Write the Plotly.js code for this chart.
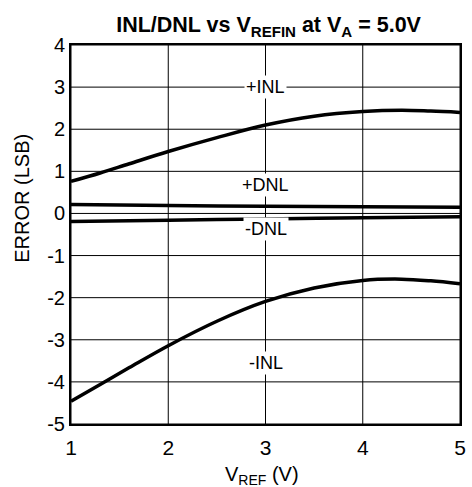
<!DOCTYPE html>
<html>
<head>
<meta charset="utf-8">
<script src="https://cdn.plot.ly/plotly-3.0.1.min.js"></script>
<style>html,body{margin:0;padding:0;background:#fff;}</style>
</head>
<body>
<div id="chart" style="width:472px;height:487px;"></div>
<script>
const vref = [1, 1.3, 1.6, 2, 2.5, 3, 3.5, 4, 4.4, 4.7, 5];
const inlPos = [0.76, 0.96, 1.18, 1.47, 1.80, 2.10, 2.31, 2.42, 2.45, 2.43, 2.40];
const inlNeg = [-4.46, -4.06, -3.66, -3.14, -2.56, -2.09, -1.77, -1.59, -1.56, -1.60, -1.67];
const vrefDnl = [1, 2, 3, 4, 5];
const dnlPos = [0.21, 0.19, 0.17, 0.16, 0.15];
const dnlNeg = [-0.19, -0.16, -0.13, -0.10, -0.08];
const labels = ["+INL", "+DNL", "-DNL", "-INL"];
const labelY = [3, 0.68, -0.36, -3.54];
const xTicks = [1, 2, 3, 4, 5];
const yTicks = [4, 3, 2, 1, 0, -1, -2, -3, -4, -5];

const lineStyle = {color: '#000', width: 3.5, shape: 'spline', smoothing: 1};
const traces = [
  {x: vref, y: inlPos, mode: 'lines', line: lineStyle, hoverinfo: 'none'},
  {x: vref, y: inlNeg, mode: 'lines', line: lineStyle, hoverinfo: 'none'},
  {x: vrefDnl, y: dnlPos, mode: 'lines', line: lineStyle, hoverinfo: 'none'},
  {x: vrefDnl, y: dnlNeg, mode: 'lines', line: lineStyle, hoverinfo: 'none'}
];

const font = {family: 'Liberation Sans, Arial, sans-serif', color: '#000'};
const annotations = labels.map((t, i) => ({
  x: 3, y: labelY[i], xref: 'x', yref: 'y', text: t, showarrow: false,
  font: Object.assign({}, font, {size: 18}), bgcolor: '#fff', borderpad: 1
}));
// axis titles placed as annotations to match reference positions
annotations.push({
  xref: 'paper', yref: 'paper', x: -0.126, y: 0.597, xanchor: 'center', yanchor: 'middle',
  text: 'ERROR (LSB)', textangle: -90, showarrow: false,
  font: Object.assign({}, font, {size: 20})
});
annotations.push({
  xref: 'paper', yref: 'paper', x: 0.492, y: -0.097, xanchor: 'center', yanchor: 'top',
  text: 'V<sub>REF</sub> (V)', showarrow: false,
  font: Object.assign({}, font, {size: 20})
});

// grid lines from tick arrays
const shapes = [];
xTicks.forEach(v => shapes.push({type: 'line', xref: 'x', yref: 'paper', x0: v, x1: v, y0: 0, y1: 1,
  line: {color: '#000', width: 1}, layer: 'below'}));
yTicks.forEach(v => shapes.push({type: 'line', xref: 'paper', yref: 'y', x0: 0, x1: 1, y0: v, y1: v,
  line: {color: '#000', width: 1}, layer: 'below'}));

const layout = {
  width: 472, height: 487,
  margin: {l: 71, r: 12, t: 45, b: 63},
  paper_bgcolor: '#fff', plot_bgcolor: 'rgba(0,0,0,0)',
  showlegend: false,
  font: font,
  title: {
    text: '<b>INL/DNL vs V<sub>REFIN</sub> at V<sub>A</sub> = 5.0V</b>',
    font: Object.assign({}, font, {size: 21.5}),
    x: 0.569, xanchor: 'center', y: 0.949, yanchor: 'middle'
  },
  xaxis: {
    range: [1, 5], tickvals: xTicks, ticktext: xTicks.map(String),
    showgrid: false,
    showline: true, linecolor: '#000', linewidth: 2, mirror: true,
    ticks: '', zeroline: false, ticklabelstandoff: 4,
    tickfont: Object.assign({}, font, {size: 21})
  },
  yaxis: {
    range: [-5, 4], tickvals: yTicks, ticktext: yTicks.map(String),
    showgrid: false,
    showline: true, linecolor: '#000', linewidth: 2, mirror: true,
    ticks: '', zeroline: false,
    tickfont: Object.assign({}, font, {size: 20})
  },
  shapes: shapes,
  annotations: annotations
};

Plotly.newPlot('chart', traces, layout, {staticPlot: true, displayModeBar: false});
</script>
</body>
</html>
